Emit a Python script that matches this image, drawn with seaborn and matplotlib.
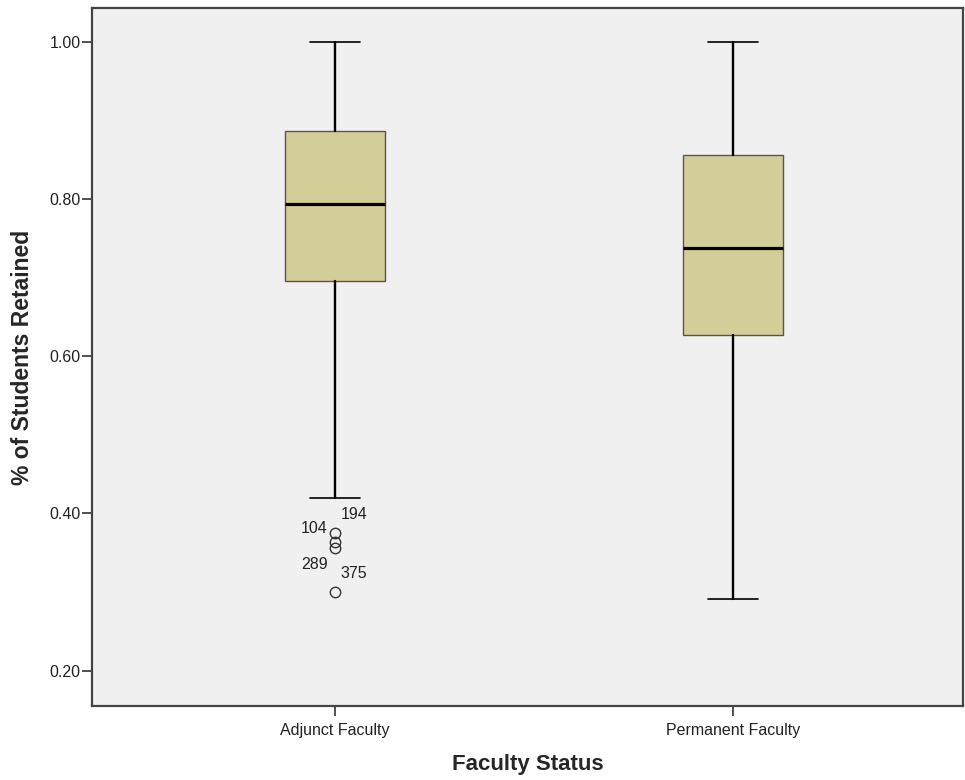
import matplotlib
matplotlib.use("Agg")
import matplotlib.pyplot as plt
import seaborn as sns

# five-number summaries
groups = ["Adjunct Faculty", "Permanent Faculty"]
whisker_low = [0.419, 0.291]
q1 = [0.696, 0.627]
median = [0.793, 0.737]
q3 = [0.887, 0.856]
whisker_high = [1.00, 1.00]

# outliers (Adjunct Faculty only) and their case ids
adjunct_outliers = [0.375, 0.363, 0.356, 0.300]
outlier_ids = ["194", "104", "289", "375"]
label_offsets = [(4, 13), (-5, 10), (-5, -12), (4, 13)]
label_align = ["left", "right", "right", "left"]

sns.set_theme(style="ticks")
plt.rcParams["font.family"] = ["Liberation Sans", "DejaVu Sans"]

stats = []
for i, name in enumerate(groups):
    stats.append({
        "label": name,
        "whislo": whisker_low[i],
        "q1": q1[i],
        "med": median[i],
        "q3": q3[i],
        "whishi": whisker_high[i],
        "fliers": adjunct_outliers if i == 0 else [],
    })

fig = plt.figure(figsize=(9.65, 7.8), dpi=100)
ax = fig.add_axes([0.0953, 0.0949, 0.9026, 0.8949])
ax.set_facecolor("#F0F0F0")

ax.bxp(
    stats,
    positions=[0, 1],
    widths=0.25,
    patch_artist=True,
    boxprops=dict(facecolor="#D3CE97", edgecolor="#555555", linewidth=1.0),
    medianprops=dict(color="black", linewidth=2.3),
    whiskerprops=dict(color="black", linewidth=1.7),
    capprops=dict(color="black", linewidth=1.2),
    capwidths=0.125,
    flierprops=dict(marker="o", markerfacecolor="none", markeredgecolor="#333333",
                    markersize=7.5, markeredgewidth=1.0),
)

for val, lab, off, ha in zip(adjunct_outliers, outlier_ids, label_offsets, label_align):
    ax.annotate(lab, (0, val), xytext=off, textcoords="offset points",
                ha=ha, va="center", fontsize=11.5, color="#222222")

ax.set_xlim(-0.61, 1.578)
ax.set_ylim(0.155, 1.043)
ax.set_yticks([0.2, 0.4, 0.6, 0.8, 1.0])
ax.set_yticklabels([f"{v:.2f}" for v in [0.2, 0.4, 0.6, 0.8, 1.0]])
ax.set_xticks([0, 1])
ax.set_xticklabels(groups)
ax.tick_params(axis="both", labelsize=11.5, length=7, width=1.2, color="#333333",
               labelcolor="#222222")
ax.tick_params(axis="y", pad=1)
ax.tick_params(axis="x", pad=5)

for sp in ax.spines.values():
    sp.set_visible(True)
    sp.set_color("#444444")
    sp.set_linewidth(1.6)

ax.set_xlabel("Faculty Status", fontsize=16, fontweight="bold", labelpad=12)
ax.set_ylabel("% of Students Retained", fontsize=16.5, fontweight="bold", labelpad=11)

fig.savefig("out.png", dpi=100)
